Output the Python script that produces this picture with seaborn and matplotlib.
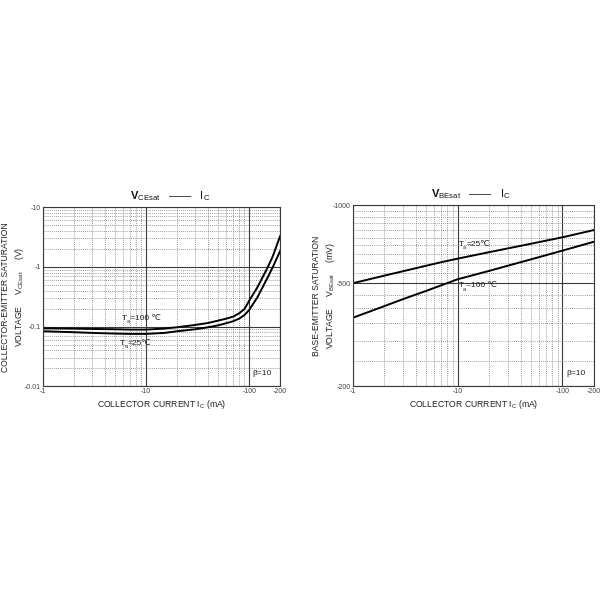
import matplotlib
matplotlib.use("Agg")
import matplotlib.pyplot as plt
from matplotlib.ticker import FixedLocator, NullFormatter
import pandas as pd
import seaborn as sns

## values (magnitudes, signs are in the tick labels)
ic_ce = [1, 2, 3, 5, 7, 10, 15, 20, 30, 40, 50, 60, 70, 80, 90, 100, 120, 150, 170, 200]
vce_100 = [0.0938, 0.0927, 0.0914, 0.0903, 0.0891, 0.0891, 0.0927, 0.0975, 0.1066, 0.115,
           0.126, 0.136, 0.147, 0.167, 0.197, 0.271, 0.453, 0.95, 1.52, 3.29]
vce_25 = [0.0836, 0.0805, 0.0784, 0.0764, 0.0755, 0.0755, 0.0784, 0.0836, 0.0903, 0.0975,
          0.105, 0.114, 0.123, 0.136, 0.156, 0.190, 0.308, 0.647, 1.0, 1.85]

ic_be = [1, 2, 3, 5, 7, 10, 20, 30, 50, 100, 200]
vbe_25 = [500, 535, 556, 584, 603, 622, 659, 681, 710, 752, 802]
vbe_100 = [368, 408, 434, 467, 491, 518, 558, 584, 618, 668, 723]

x_ticks = [1, 10, 100, 200]
x_labels = ['-1', '-10', '-100', '-200']
ce_ticks = [0.01, 0.1, 1, 10]
ce_labels = ['-0.01', '-0.1', '-1', '-10']
be_ticks = [200, 500, 1000]
be_labels = ['-200', '-500', '-1000']
be_minor = [250, 300, 350, 400, 450, 550, 600, 650, 700, 750, 800, 850, 900, 950]
x_minor = [2, 3, 4, 5, 6, 7, 8, 9, 20, 30, 40, 50, 60, 70, 80, 90]
ce_minor = [m * d for d in [0.01, 0.1, 1] for m in range(2, 10)]

sns.set_theme(style='white')
plt.rcParams['font.family'] = ['Liberation Sans', 'DejaVu Sans']
plt.rcParams['mathtext.fontset'] = 'custom'
plt.rcParams['mathtext.rm'] = 'Liberation Sans'
plt.rcParams['mathtext.bf'] = 'Liberation Sans:bold'

ce_df = pd.DataFrame({'Ic': ic_ce * 2, 'V': vce_100 + vce_25,
                      'T': ['100'] * len(ic_ce) + ['25'] * len(ic_ce)})
be_df = pd.DataFrame({'Ic': ic_be * 2, 'V': vbe_25 + vbe_100,
                      'T': ['25'] * len(ic_be) + ['100'] * len(ic_be)})

fig = plt.figure(figsize=(6, 6), dpi=100)
ax1 = fig.add_axes([0.072, 0.356, 0.395, 0.299])
ax2 = fig.add_axes([0.588, 0.356, 0.402, 0.302])


def style_axes(ax, yticks, ylabels, yminor):
    ax.set_xscale('log')
    ax.set_yscale('log')
    ax.set_xlim(1, 200)
    ax.set_xticks(x_ticks)
    ax.set_xticklabels(x_labels)
    ax.xaxis.set_minor_locator(FixedLocator(x_minor))
    ax.xaxis.set_minor_formatter(NullFormatter())
    ax.set_yticks(yticks)
    ax.set_yticklabels(ylabels)
    ax.yaxis.set_minor_locator(FixedLocator(yminor))
    ax.yaxis.set_minor_formatter(NullFormatter())
    ax.tick_params(which='both', length=0, labelsize=5, colors='#444444', pad=1.5)
    ax.grid(which='major', color='#3a3a3a', lw=0.8, ls='-')
    ax.grid(which='minor', color='#7a7a7a', lw=0.6, ls=(0, (1, 1.5)))
    for s in ax.spines.values():
        s.set_color('#3a3a3a')
        s.set_linewidth(0.8)
    ax.set_axisbelow(True)


def temp_label(ax, x, y, rest):
    # T, subscript a, then the rest as plain text so the ℃ glyph falls back to DejaVu
    kw = dict(xycoords='data', textcoords='offset points', va='center', ha='left', color='#222222')
    ax.annotate('T', (x, y), xytext=(0, 0), fontsize=6, **kw)
    ax.annotate('a', (x, y), xytext=(3.3, -2.2), fontsize=4, **kw)
    ax.annotate(rest, (x, y), xytext=(5.6, 0), fontsize=6, **kw)


sns.lineplot(data=ce_df, x='Ic', y='V', units='T', estimator=None, color='black', lw=1.4, ax=ax1)
ax1.set_ylim(0.01, 10)
style_axes(ax1, ce_ticks, ce_labels, ce_minor)

sns.lineplot(data=be_df, x='Ic', y='V', units='T', estimator=None, color='black', lw=1.4, ax=ax2)
ax2.set_ylim(200, 1000)
style_axes(ax2, be_ticks, be_labels, be_minor)

lab = dict(fontsize=6.2, color='#222222')
ax1.set_xlabel(r'COLLECTOR CURRENT I$_{\rm C}$ (mA)', labelpad=2, **lab)
ax1.set_ylabel('COLLECTOR-EMITTER SATURATION\n' + r'VOLTAGE     V$_{\rm CEsat}$     (V)',
               linespacing=1.3, **lab)
ax1.yaxis.set_label_coords(-0.072, 0.5)
ax2.set_xlabel(r'COLLECTOR CURRENT I$_{\rm C}$ (mA)', labelpad=2, **lab)
ax2.set_ylabel('BASE-EMITTER SATURATION\n' + r'VOLTAGE     V$_{\rm BEsat}$     (mV)',
               linespacing=1.3, **lab)
ax2.yaxis.set_label_coords(-0.066, 0.5)

# chart titles
fig.text(0.283, 0.673, r'$\mathbf{V}_{\rm CEsat}$   ——   I$_{\rm C}$', fontsize=8,
         ha='center', va='center', color='#111111')
fig.text(0.785, 0.676, r'$\mathbf{V}_{\rm BEsat}$   ——   I$_{\rm C}$', fontsize=8,
         ha='center', va='center', color='#111111')

# curve annotations
temp_label(ax1, 5.8, 0.136, '=100 ℃')
temp_label(ax1, 5.6, 0.052, '=25℃')
temp_label(ax2, 10.2, 708, '=25℃')
temp_label(ax2, 10.2, 488, '=100 ℃')
ax1.text(0.965, 0.05, 'β=10', transform=ax1.transAxes, ha='right', va='bottom', fontsize=6, color='#222222')
ax2.text(0.965, 0.05, 'β=10', transform=ax2.transAxes, ha='right', va='bottom', fontsize=6, color='#222222')

fig.savefig('out.png', dpi=100)
